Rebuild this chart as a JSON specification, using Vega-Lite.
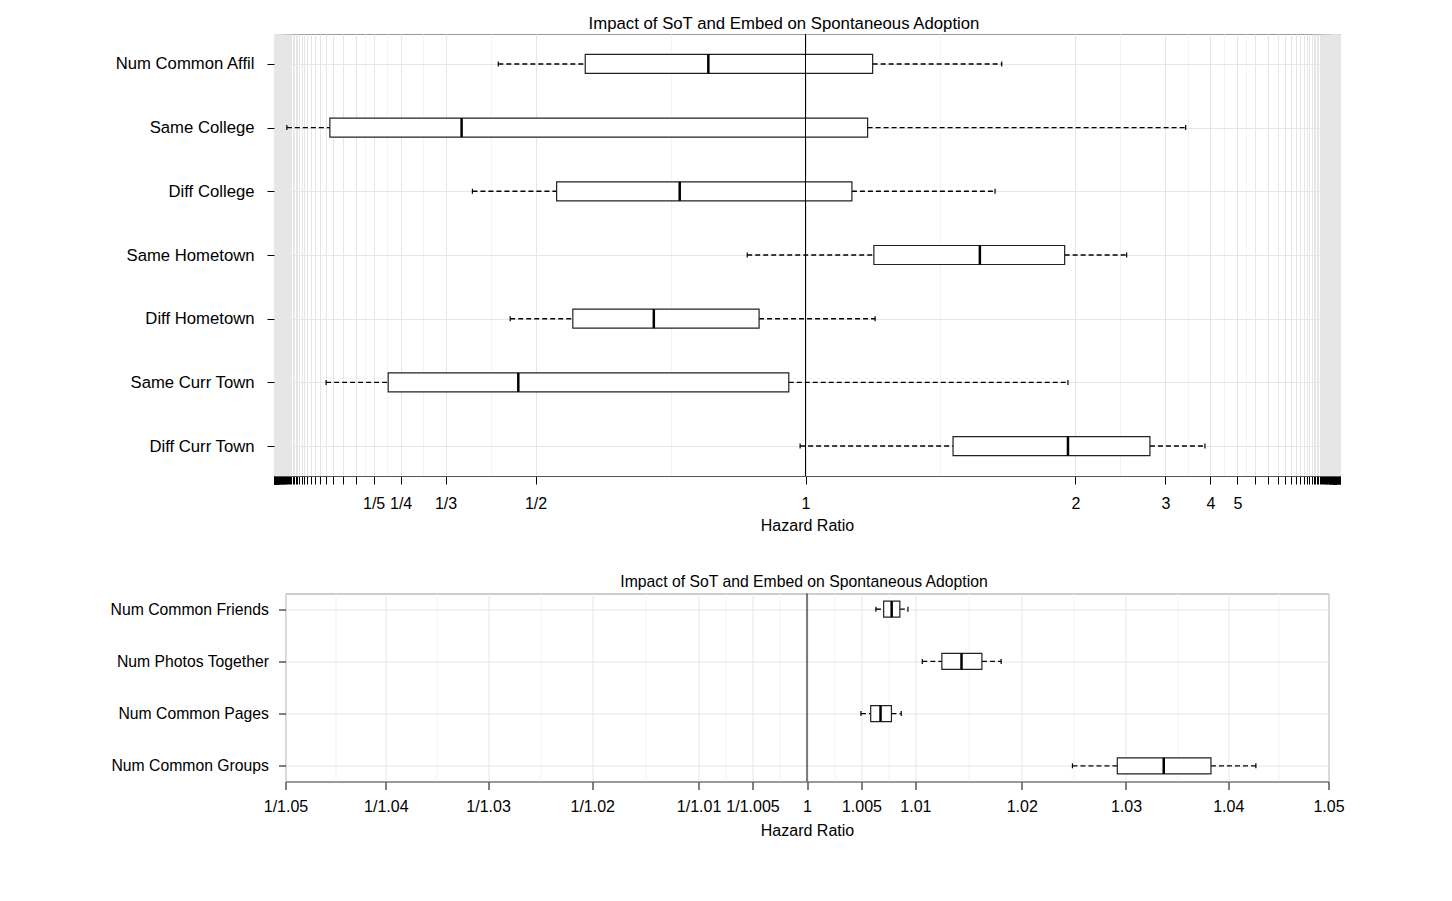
{
  "$schema": "https://vega.github.io/schema/vega-lite/v6.json",
  "background": "white",
  "padding": {"left": 109, "top": 15, "right": 5, "bottom": 5},
  "bounds": "flush",
  "center": true,
  "spacing": 117.5,
  "config": {
    "font": "Liberation Sans",
    "view": {"stroke": "#9a9a9a", "strokeWidth": 1},
    "axis": {"labelColor": "black", "titleColor": "black", "tickColor": "black", "labelFontWeight": "normal", "titleFontWeight": "normal"}
  },
  "vconcat": [
    {
      "title": {"text": "Impact of SoT and Embed on Spontaneous Adoption", "fontSize": 16.75, "fontWeight": "normal", "color": "black", "frame": "group", "dx": -23, "offset": 1},
      "width": 1066,
      "height": 442,
      "data": {"values": [
        {"var": "Num Common Affil", "lo": 0.431, "q1": 0.592, "med": 0.820, "q3": 1.142, "hi": 1.571},
        {"var": "Same College", "lo": 0.0393, "q1": 0.119, "med": 0.363, "q3": 1.130, "hi": 3.380},
        {"var": "Diff College", "lo": 0.383, "q1": 0.539, "med": 0.767, "q3": 1.094, "hi": 1.541},
        {"var": "Same Hometown", "lo": 0.892, "q1": 1.145, "med": 1.477, "q3": 1.923, "hi": 2.468},
        {"var": "Diff Hometown", "lo": 0.453, "q1": 0.569, "med": 0.719, "q3": 0.914, "hi": 1.148},
        {"var": "Same Curr Town", "lo": 0.112, "q1": 0.227, "med": 0.468, "q3": 0.969, "hi": 1.946},
        {"var": "Diff Curr Town", "lo": 0.990, "q1": 1.376, "med": 1.946, "q3": 2.762, "hi": 3.844}
      ]},
      "transform": [
        {"calculate": "datum.lo < 1 ? datum.lo - 1 : 1 - 1 / datum.lo", "as": "tlo"},
        {"calculate": "datum.q1 < 1 ? datum.q1 - 1 : 1 - 1 / datum.q1", "as": "tq1"},
        {"calculate": "datum.med < 1 ? datum.med - 1 : 1 - 1 / datum.med", "as": "tmed"},
        {"calculate": "datum.q3 < 1 ? datum.q3 - 1 : 1 - 1 / datum.q3", "as": "tq3"},
        {"calculate": "datum.hi < 1 ? datum.hi - 1 : 1 - 1 / datum.hi", "as": "thi"}
      ],
      "layer": [
        {
          "mark": {"type": "rule", "color": "black", "strokeWidth": 1.4, "strokeDash": [5, 3]},
          "encoding": {
            "y": {"field": "var", "type": "nominal", "title": null,
              "scale": {"type": "point", "padding": 0.47, "domain": ["Num Common Affil", "Same College", "Diff College", "Same Hometown", "Diff Hometown", "Same Curr Town", "Diff Curr Town"]},
              "axis": {"domain": false, "grid": true, "gridColor": "#e6e6e6", "tickSize": 7, "tickColor": "black", "labelFontSize": 16.7, "labelPadding": 13, "labelColor": "black"}},
            "x": {"field": "tlo", "type": "quantitative", "title": "Hazard Ratio",
              "scale": {"domain": [-0.9845, 0.99], "nice": false, "zero": false},
              "axis": {
                "values": [-0.984375, -0.984127, -0.983871, -0.983607, -0.983333, -0.983051, -0.982759, -0.982456, -0.982143, -0.981818, -0.981481, -0.981132, -0.980769, -0.980392, -0.98, -0.979592, -0.979167, -0.978723, -0.978261, -0.977778, -0.977273, -0.976744, -0.97619, -0.97561, -0.975, -0.974359, -0.973684, -0.972973, -0.972222, -0.971429, -0.970588, -0.969697, -0.96875, -0.967742, -0.966667, -0.965517, -0.964286, -0.962963, -0.961538, -0.96, -0.958333, -0.956522, -0.954545, -0.952381, -0.95, -0.947368, -0.944444, -0.941176, -0.9375, -0.933333, -0.928571, -0.923077, -0.916667, -0.909091, -0.9, -0.888889, -0.875, -0.857143, -0.833333, -0.816667, -0.8, -0.775, -0.75, -0.708333, -0.666667, -0.583333, -0.5, -0.25, 0, 0.25, 0.5, 0.583333, 0.666667, 0.708333, 0.75, 0.775, 0.8, 0.816667, 0.833333, 0.857143, 0.875, 0.888889, 0.9, 0.909091, 0.916667, 0.923077, 0.928571, 0.933333, 0.9375, 0.941176, 0.944444, 0.947368, 0.95, 0.952381, 0.954545, 0.956522, 0.958333, 0.96, 0.961538, 0.962963, 0.964286, 0.965517, 0.966667, 0.967742, 0.96875, 0.969697, 0.970588, 0.971429, 0.972222, 0.972973, 0.973684, 0.974359, 0.975, 0.97561, 0.97619, 0.976744, 0.977273, 0.977778, 0.978261, 0.978723, 0.979167, 0.979592, 0.98, 0.980392, 0.980769, 0.981132, 0.981481, 0.981818, 0.982143, 0.982456, 0.982759, 0.983051, 0.983333, 0.984127, 0.984848, 0.985714, 0.986667, 0.9875, 0.988372, 0.98913, 0.989899],
                "tickCount": 1000,
                "labelExpr": "indexof([-0.8, -0.75, -0.666667, -0.5, 0.5, 0.666667, 0.75, 0.8], datum.value) >= 0 ? (datum.value < 0 ? '1/' + format(1 / (1 + datum.value), '.0f') : format(1 / (1 - datum.value), '.0f')) : (datum.value == 0 ? '1' : '')",
                "labelOverlap": false, "labelFlush": false, "labelBound": false,
                "labelFontSize": 16, "labelPadding": 11, "labelColor": "black",
                "titleFontSize": 16, "titlePadding": 6, "titleFontWeight": "normal",
                "domainColor": "#555555",
                "tickSize": 8,
                "tickColor": "black",
                "tickOpacity": {"condition": {"test": "indexof([-0.816667, -0.775, -0.708333, -0.583333, -0.25, 0.25, 0.583333, 0.708333, 0.775, 0.816667], datum.value) >= 0", "value": 0}, "value": 1},
                "grid": true,
                "gridColor": {"condition": {"test": "indexof([-0.816667, -0.775, -0.708333, -0.583333, -0.25, 0.25, 0.583333, 0.708333, 0.775, 0.816667], datum.value) >= 0", "value": "#f3f3f3"}, "value": "#e6e6e6"}
              }},
            "x2": {"field": "tq1"}
          }
        },
        {
          "mark": {"type": "rule", "color": "black", "strokeWidth": 1.4, "strokeDash": [5, 3]},
          "encoding": {
            "y": {"field": "var", "type": "nominal", "title": null},
            "x": {"field": "tq3", "type": "quantitative", "title": "Hazard Ratio"},
            "x2": {"field": "thi"}
          }
        },
        {
          "mark": {"type": "bar", "size": 19, "fill": "white", "stroke": "#222222", "strokeWidth": 1.2},
          "encoding": {
            "y": {"field": "var", "type": "nominal", "title": null},
            "x": {"field": "tq1", "type": "quantitative", "title": "Hazard Ratio"},
            "x2": {"field": "tq3"}
          }
        },
        {
          "mark": {"type": "tick", "size": 19, "thickness": 2.5, "color": "black", "opacity": 1},
          "encoding": {
            "y": {"field": "var", "type": "nominal", "title": null},
            "x": {"field": "tmed", "type": "quantitative", "title": "Hazard Ratio"}
          }
        },
        {
          "mark": {"type": "tick", "size": 5, "thickness": 1.2, "color": "black", "opacity": 1},
          "encoding": {
            "y": {"field": "var", "type": "nominal", "title": null},
            "x": {"field": "tlo", "type": "quantitative", "title": "Hazard Ratio"}
          }
        },
        {
          "mark": {"type": "tick", "size": 5, "thickness": 1.2, "color": "black", "opacity": 1},
          "encoding": {
            "y": {"field": "var", "type": "nominal", "title": null},
            "x": {"field": "thi", "type": "quantitative", "title": "Hazard Ratio"}
          }
        },
        {
          "data": {"values": [{"ref": "one"}]},
          "mark": {"type": "rule", "color": "black", "strokeWidth": 1},
          "encoding": {
            "x": {"datum": 0, "type": "quantitative", "title": "Hazard Ratio"}
          }
        }
      ]
    },
    {
      "title": {"text": "Impact of SoT and Embed on Spontaneous Adoption", "fontSize": 15.75, "fontWeight": "normal", "color": "black", "frame": "group", "dx": -3, "offset": 2.5},
      "width": 1043,
      "height": 188,
      "data": {"values": [
        {"var": "Num Common Friends", "lo": 1.00633, "q1": 1.00705, "med": 1.00779, "q3": 1.00855, "hi": 1.0093},
        {"var": "Num Photos Together", "lo": 1.01064, "q1": 1.01247, "med": 1.01431, "q3": 1.01623, "hi": 1.01805},
        {"var": "Num Common Pages", "lo": 1.00495, "q1": 1.00585, "med": 1.00676, "q3": 1.00777, "hi": 1.00868},
        {"var": "Num Common Groups", "lo": 1.02484, "q1": 1.02916, "med": 1.03367, "q3": 1.0383, "hi": 1.04274}
      ]},
      "transform": [
        {"calculate": "datum.lo < 1 ? datum.lo - 1 : 1 - 1 / datum.lo", "as": "tlo"},
        {"calculate": "datum.q1 < 1 ? datum.q1 - 1 : 1 - 1 / datum.q1", "as": "tq1"},
        {"calculate": "datum.med < 1 ? datum.med - 1 : 1 - 1 / datum.med", "as": "tmed"},
        {"calculate": "datum.q3 < 1 ? datum.q3 - 1 : 1 - 1 / datum.q3", "as": "tq3"},
        {"calculate": "datum.hi < 1 ? datum.hi - 1 : 1 - 1 / datum.hi", "as": "thi"}
      ],
      "layer": [
        {
          "mark": {"type": "rule", "color": "black", "strokeWidth": 1.4, "strokeDash": [5, 3]},
          "encoding": {
            "y": {"field": "var", "type": "nominal", "title": null,
              "scale": {"type": "point", "padding": 0.3, "domain": ["Num Common Friends", "Num Photos Together", "Num Common Pages", "Num Common Groups"]},
              "axis": {"domain": false, "grid": true, "gridColor": "#e6e6e6", "tickSize": 7, "tickColor": "black", "labelFontSize": 15.75, "labelPadding": 10, "labelColor": "black"}},
            "x": {"field": "tlo", "type": "quantitative", "title": "Hazard Ratio",
              "scale": {"domain": [-0.0476190476, 0.0476190476], "nice": false, "zero": false},
              "axis": {
                "values": [-0.0476190476, -0.0430402931, -0.0384615385, -0.0337938761, -0.0291262136, -0.0243670284, -0.0196078431, -0.0147544166, -0.0099009901, -0.0074380573, -0.0049751244, -0.0024875622, 0, 0.0024875622, 0.0049751244, 0.0074380573, 0.0099009901, 0.0147544166, 0.0196078431, 0.0243670284, 0.0291262136, 0.0337938761, 0.0384615385, 0.0430402931, 0.0476190476],
                "tickCount": 1000,
                "labelExpr": "indexof([-0.0430402931, -0.0337938761, -0.0243670284, -0.0147544166, -0.0074380573, -0.0024875622, 0.0024875622, 0.0074380573, 0.0147544166, 0.0243670284, 0.0337938761, 0.0430402931], datum.value) >= 0 ? '' : (datum.value == 0 ? '1' : (datum.value < 0 ? '1/' + format(1 / (1 + datum.value), '.3~f') : format(1 / (1 - datum.value), '.3~f')))",
                "labelOverlap": false, "labelFlush": false, "labelBound": false,
                "labelFontSize": 16, "labelPadding": 9, "labelColor": "black",
                "titleFontSize": 16, "titlePadding": 8, "titleFontWeight": "normal",
                "domainColor": "#666666",
                "tickSize": 8,
                "tickColor": "black",
                "tickOpacity": {"condition": {"test": "indexof([-0.0430402931, -0.0337938761, -0.0243670284, -0.0147544166, -0.0074380573, -0.0024875622, 0.0024875622, 0.0074380573, 0.0147544166, 0.0243670284, 0.0337938761, 0.0430402931], datum.value) >= 0", "value": 0}, "value": 1},
                "grid": true,
                "gridColor": {"condition": {"test": "indexof([-0.0430402931, -0.0337938761, -0.0243670284, -0.0147544166, -0.0074380573, -0.0024875622, 0.0024875622, 0.0074380573, 0.0147544166, 0.0243670284, 0.0337938761, 0.0430402931], datum.value) >= 0", "value": "#f3f3f3"}, "value": "#e6e6e6"}
              }},
            "x2": {"field": "tq1"}
          }
        },
        {
          "mark": {"type": "rule", "color": "black", "strokeWidth": 1.4, "strokeDash": [5, 3]},
          "encoding": {
            "y": {"field": "var", "type": "nominal", "title": null},
            "x": {"field": "tq3", "type": "quantitative", "title": "Hazard Ratio"},
            "x2": {"field": "thi"}
          }
        },
        {
          "mark": {"type": "bar", "size": 16, "fill": "white", "stroke": "#222222", "strokeWidth": 1.2},
          "encoding": {
            "y": {"field": "var", "type": "nominal", "title": null},
            "x": {"field": "tq1", "type": "quantitative", "title": "Hazard Ratio"},
            "x2": {"field": "tq3"}
          }
        },
        {
          "mark": {"type": "tick", "size": 16, "thickness": 2.5, "color": "black", "opacity": 1},
          "encoding": {
            "y": {"field": "var", "type": "nominal", "title": null},
            "x": {"field": "tmed", "type": "quantitative", "title": "Hazard Ratio"}
          }
        },
        {
          "mark": {"type": "tick", "size": 5, "thickness": 1.2, "color": "black", "opacity": 1},
          "encoding": {
            "y": {"field": "var", "type": "nominal", "title": null},
            "x": {"field": "tlo", "type": "quantitative", "title": "Hazard Ratio"}
          }
        },
        {
          "mark": {"type": "tick", "size": 5, "thickness": 1.2, "color": "black", "opacity": 1},
          "encoding": {
            "y": {"field": "var", "type": "nominal", "title": null},
            "x": {"field": "thi", "type": "quantitative", "title": "Hazard Ratio"}
          }
        },
        {
          "data": {"values": [{"ref": "one"}]},
          "mark": {"type": "rule", "color": "black", "strokeWidth": 1},
          "encoding": {
            "x": {"datum": 0, "type": "quantitative", "title": "Hazard Ratio"}
          }
        }
      ]
    }
  ]
}
